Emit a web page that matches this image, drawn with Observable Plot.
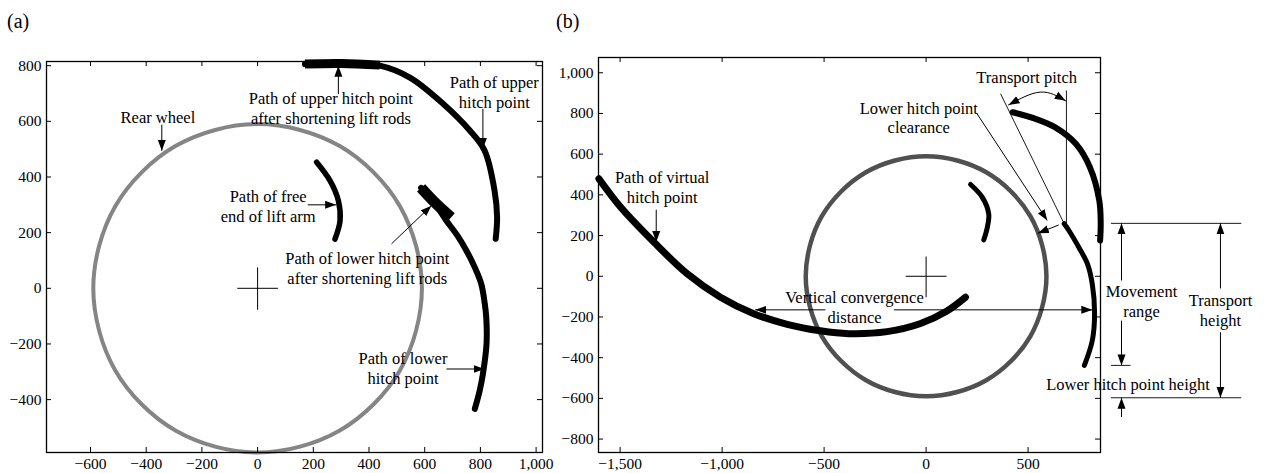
<!DOCTYPE html>
<html><head><meta charset="utf-8">
<script src="https://cdn.jsdelivr.net/npm/d3@7"></script>
<script src="https://cdn.jsdelivr.net/npm/@observablehq/plot@0.6"></script>
<style>
body{margin:0;background:#fff;}
#root{position:relative;width:1264px;height:473px;overflow:hidden;font-family:'Liberation Serif','Times New Roman',serif;background:#fff;}
.panel{position:absolute;top:0;}
.tag{position:absolute;font-size:20px;line-height:20px;color:#000;}
</style></head><body>
<div id="root">
<div class="panel" id="pa" style="left:0"></div>
<div class="panel" id="pb" style="left:560px"></div>
<div class="tag" style="left:7px;top:11px">(a)</div>
<div class="tag" style="left:556px;top:11px">(b)</div>
</div>
<script>
// ---------- Panel (a) data ----------
const aXTicks = [-600, -400, -200, 0, 200, 400, 600, 800, 1000];
const aYTicks = [-400, -200, 0, 200, 400, 600, 800];
const aWheel = [[590,0],[511,295],[295,511],[0,590],[-295,511],[-511,295],[-590,0],[-511,-295],[-295,-511],[0,-590],[295,-511],[511,-295]];
const aUpper = [[170,806],[300,809],[439,800],[547,757],[666,663],[762,567],[815,495],[851,350],[860,255],[855,178]];
const aUpperShortened = [[170,806],[300,808],[439,802]];
const aLower = [[587,361],[640,300],[678,243],[717,190],[750,135],[780,75],[803,16],[815,-50],[821,-104],[822,-200],[809,-308],[797,-370],[780,-433]];
const aLowerShortened = [[587,361],[640,305],[695,255]];
const aLiftArm = [[212,453],[260,387],[290,315],[296,243],[278,177]];
const aCross = [{x1:-73,y1:0,x2:73,y2:0},{x1:0,y1:75,x2:0,y2:-77}];
const aLabels = [
  {text: "Rear wheel", x: -358, y: 617},
  {text: "Path of upper hitch point\nafter shortening lift rods", x: 263, y: 650},
  {text: "Path of upper\nhitch point", x: 850, y: 707},
  {text: "Path of free\nend of lift arm", x: 38, y: 297},
  {text: "Path of lower hitch point\nafter shortening lift rods", x: 394, y: 75},
  {text: "Path of lower\nhitch point", x: 522, y: -284}
];
const aArrows = [
  {x1: -344, y1: 588, x2: -344, y2: 494},
  {x1: 290, y1: 698, x2: 290, y2: 800},
  {x1: 809, y1: 645, x2: 809, y2: 501},
  {x1: 180, y1: 300, x2: 282, y2: 300},
  {x1: 481, y1: 160, x2: 624, y2: 297},
  {x1: 678, y1: -290, x2: 815, y2: -290}
];

// ---------- Panel (b) data ----------
const bXTicks = [-1500, -1000, -500, 0, 500];
const bYTicks = [-800, -600, -400, -200, 0, 200, 400, 600, 800, 1000];
const bWheel = [[590,0],[511,295],[295,511],[0,590],[-295,511],[-511,295],[-590,0],[-511,-295],[-295,-511],[0,-590],[295,-511],[511,-295]];
const bUpper = [[424,806],[530,776],[631,733],[734,651],[803,536],[849,372],[856,260],[853,176]];
const bLower = [[677,258],[700,225],[750,140],[791,61],[815,-40],[826,-183],[815,-315],[776,-438]];
const bLiftArm = [[218,451],[275,389],[307,307],[300,240],[283,179]];
const bVirtual = [[-1604,479],[-1498,340],[-1335,168],[-1171,12],[-1008,-103],[-845,-184],[-681,-236],[-518,-268],[-380,-282],[-191,-272],[-27,-232],[100,-172],[193,-103]];
const bCross = [{x1:-100,y1:0,x2:100,y2:0},{x1:0,y1:97,x2:0,y2:-103}];
const bPitchArc = [[404,842],[560,905],[684,862]];
const bLabels = [
  {text: "Path of virtual\nhitch point", x: -1294, y: 440},
  {text: "Vertical convergence\ndistance", x: -351, y: -150},
  {text: "Transport pitch", x: 493, y: 982},
  {text: "Lower hitch point\nclearance", x: -36, y: 782},
  {text: "Movement\nrange", x: 1056, y: -119},
  {text: "Transport\nheight", x: 1443, y: -166},
  {text: "Lower hitch point height", x: 990, y: -528}
];
const bLeaders = [
  {x1: 688, y1: 913, x2: 688, y2: 258},
  {x1: 365, y1: 897, x2: 677, y2: 258},
  {x1: 906, y1: 260, x2: 1545, y2: 260},
  {x1: 906, y1: -597, x2: 1545, y2: -597},
  {x1: 906, y1: -438, x2: 1002, y2: -438}
];
const bArrows = [
  {x1: -1323, y1: 327, x2: -1323, y2: 168},
  {x1: -494, y1: -165, x2: -838, y2: -165},
  {x1: -158, y1: -165, x2: 815, y2: -165},
  {x1: 250, y1: 798, x2: 594, y2: 274},
  {x1: 650, y1: 252, x2: 548, y2: 211},
  {x1: 958, y1: -21, x2: 958, y2: 260},
  {x1: 958, y1: -218, x2: 958, y2: -438},
  {x1: 958, y1: -692, x2: 958, y2: -597},
  {x1: 1443, y1: -60, x2: 1443, y2: 260},
  {x1: 1443, y1: -275, x2: 1443, y2: -597}
];

// ---------- helpers ----------
const NS = "http://www.w3.org/2000/svg";
function arrowHead(color, context) {
  const doc = (context && context.document) || document;
  const m = doc.createElementNS(NS, "marker");
  m.setAttribute("viewBox", "-11 -4.5 11 9");
  m.setAttribute("refX", "0");
  m.setAttribute("refY", "0");
  m.setAttribute("markerWidth", "11");
  m.setAttribute("markerHeight", "9");
  m.setAttribute("markerUnits", "userSpaceOnUse");
  m.setAttribute("orient", "auto-start-reverse");
  const p = doc.createElementNS(NS, "path");
  p.setAttribute("d", "M-11,-4L0,0L-11,4Z");
  p.setAttribute("fill", color);
  p.setAttribute("stroke", "none");
  m.appendChild(p);
  return m;
}
const fmt = d3.format(",");
const XY = {x: d => d[0], y: d => d[1]};
const LNK = {x1: "x1", y1: "y1", x2: "x2", y2: "y2"};
const style = {fontFamily: "'Liberation Serif','Times New Roman',serif", fontSize: "15.5px", background: "white", overflow: "visible", color: "black"};

function frameMarks(xt, yt, pw, ph) {
  return [
    Plot.frame({stroke: "black", strokeWidth: 1.3}),
    Plot.ruleX(xt, {insetTop: ph - 5, stroke: "black"}),
    Plot.ruleX(xt, {insetBottom: ph - 5, stroke: "black"}),
    Plot.ruleY(yt, {insetRight: pw - 5, stroke: "black"}),
    Plot.ruleY(yt, {insetLeft: pw - 5, stroke: "black"}),
    Plot.axisX({ticks: xt, tickSize: 0, tickPadding: 5, tickFormat: fmt, label: null}),
    Plot.axisY({ticks: yt, tickSize: 0, tickPadding: 5, tickFormat: fmt, label: null})
  ];
}

// ---------- Panel (a) ----------
{
  const W = 560, H = 473, mL = 46, mR = 18, mT = 61, mB = 21;
  const pw = W - mL - mR, ph = H - mT - mB;
  const chart = Plot.plot({
    width: W, height: H, marginLeft: mL, marginRight: mR, marginTop: mT, marginBottom: mB,
    x: {domain: [-758, 1023]},
    y: {domain: [-590, 815]},
    style,
    marks: [
      Plot.line(aWheel, {...XY, curve: "catmull-rom-closed", stroke: "#858585", strokeWidth: 4}),
      Plot.line(aUpper, {...XY, curve: "catmull-rom", stroke: "black", strokeWidth: 6, strokeLinecap: "round"}),
      Plot.line(aUpperShortened, {...XY, curve: "catmull-rom", stroke: "black", strokeWidth: 9, strokeLinecap: "butt"}),
      Plot.line(aLower, {...XY, curve: "catmull-rom", stroke: "black", strokeWidth: 6, strokeLinecap: "round"}),
      Plot.line(aLowerShortened, {...XY, curve: "catmull-rom", stroke: "black", strokeWidth: 11, strokeLinecap: "butt"}),
      Plot.line(aLiftArm, {...XY, curve: "catmull-rom", stroke: "black", strokeWidth: 5.5, strokeLinecap: "round"}),
      Plot.link(aCross, {...LNK, stroke: "black", strokeWidth: 1}),
      Plot.link(aArrows, {...LNK, stroke: "black", strokeWidth: 1, markerEnd: arrowHead}),
      ...frameMarks(aXTicks, aYTicks, pw, ph),
      Plot.text(aLabels, {x: "x", y: "y", text: "text", fontSize: 16.5, lineHeight: 1.2, fill: "black"})
    ]
  });
  document.getElementById("pa").appendChild(chart);
}

// ---------- Panel (b) ----------
{
  const W = 704, H = 473, mL = 38, mR = 164, mT = 57, mB = 21;
  const pw = W - mL - mR, ph = H - mT - mB;
  const chart = Plot.plot({
    width: W, height: H, marginLeft: mL, marginRight: mR, marginTop: mT, marginBottom: mB,
    x: {domain: [-1606, 855]},
    y: {domain: [-866, 1075]},
    style,
    marks: [
      Plot.line(bWheel, {...XY, curve: "catmull-rom-closed", stroke: "#505050", strokeWidth: 4.5}),
      Plot.line(bVirtual, {...XY, curve: "catmull-rom", stroke: "black", strokeWidth: 7, strokeLinecap: "round"}),
      Plot.line(bUpper, {...XY, curve: "catmull-rom", stroke: "black", strokeWidth: 6, strokeLinecap: "round"}),
      Plot.line(bLower, {...XY, curve: "catmull-rom", stroke: "black", strokeWidth: 5, strokeLinecap: "round"}),
      Plot.line(bLiftArm, {...XY, curve: "catmull-rom", stroke: "black", strokeWidth: 5, strokeLinecap: "round"}),
      Plot.link(bCross, {...LNK, stroke: "black", strokeWidth: 1}),
      Plot.link(bLeaders, {...LNK, stroke: "black", strokeWidth: 0.9}),
      Plot.link(bArrows, {...LNK, stroke: "black", strokeWidth: 1, markerEnd: arrowHead}),
      Plot.line(bPitchArc, {...XY, curve: "natural", stroke: "black", strokeWidth: 1, markerStart: arrowHead, markerEnd: arrowHead}),
      ...frameMarks(bXTicks, bYTicks, pw, ph),
      Plot.text(bLabels, {x: "x", y: "y", text: "text", fontSize: 16.5, lineHeight: 1.2, fill: "black"})
    ]
  });
  document.getElementById("pb").appendChild(chart);
}
</script>
</body></html>
